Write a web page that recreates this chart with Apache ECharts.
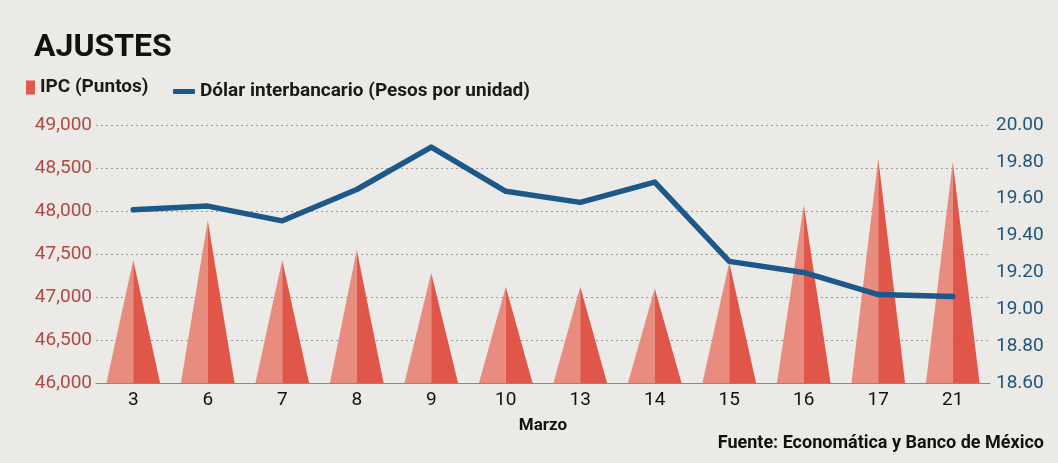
<!DOCTYPE html>
<html><head><meta charset="utf-8">
<script src="https://cdn.jsdelivr.net/npm/echarts@6/dist/echarts.min.js"></script>
<style>html,body{margin:0;padding:0;background:#ebeae6;}#c{width:1058px;height:463px;}</style>
</head><body><div id="c"></div>
<script>
const categories = ['3','6','7','8','9','10','13','14','15','16','17','21'];
const ipc = [47430, 47890, 47430, 47550, 47280, 47120, 47120, 47100, 47400, 48070, 48610, 48570];
const dolar = [19.54, 19.56, 19.48, 19.65, 19.88, 19.64, 19.58, 19.69, 19.26, 19.20, 19.08, 19.07];
const leftTicks = [46000, 49000, 500];
const rightTicks = [18.6, 20.0, 0.2];

const FONT = "'Roboto','Liberation Sans',sans-serif";
const chart = echarts.init(document.getElementById('c'));
chart.setOption({
  backgroundColor: '#ebeae6',
  animation: false,
  title: {
    text: 'AJUSTES', left: 29, top: 27,
    textStyle: {fontFamily: FONT, fontSize: 32, fontWeight: 'bold', color: '#111'}
  },
  legend: [
    {data: [{name: 'IPC (Puntos)', icon: 'rect'}], left: 21, top: 73, itemWidth: 9, itemHeight: 14, itemGap: 5,
     textStyle: {fontFamily: FONT, fontSize: 19, fontWeight: 'bold', color: '#1a1a1a'}},
    {data: [{name: 'Dólar interbancario (Pesos por unidad)', icon: 'roundRect'}], left: 168, top: 77, itemWidth: 22, itemHeight: 5, itemGap: 5,
     textStyle: {fontFamily: FONT, fontSize: 19, fontWeight: 'bold', color: '#1a1a1a'}}
  ],
  grid: {left: 96, right: 68, top: 125, bottom: 80},
  xAxis: {
    type: 'category', data: categories,
    name: 'Marzo', nameLocation: 'middle', nameGap: 34,
    nameTextStyle: {fontFamily: FONT, fontSize: 17, fontWeight: 'bold', color: '#111'},
    axisLine: {lineStyle: {color: '#8a8a8a', width: 1}},
    axisTick: {show: false},
    axisLabel: {fontFamily: FONT, fontSize: 19, color: '#111', margin: 8}
  },
  yAxis: [
    {type: 'value', min: leftTicks[0], max: leftTicks[1], interval: leftTicks[2],
     axisLine: {show: false}, axisTick: {show: false},
     splitLine: {lineStyle: {color: '#9a9a9a', type: [2, 3], width: 1}},
     axisLabel: {fontFamily: FONT, fontSize: 19, color: '#b04a44', margin: 4,
       formatter: v => v.toLocaleString('en-US')}},
    {type: 'value', min: rightTicks[0], max: rightTicks[1], interval: rightTicks[2],
     axisLine: {show: false}, axisTick: {show: false}, splitLine: {show: false},
     axisLabel: {fontFamily: FONT, fontSize: 19, color: '#1d5580', margin: 6,
       formatter: v => v.toFixed(2)}}
  ],
  series: [
    {name: 'IPC (Puntos)', type: 'custom', yAxisIndex: 0, data: ipc.map((v, i) => [i, v]),
     itemStyle: {color: '#e1594b'},
     encode: {x: 0, y: 1},
     renderItem: function (params, api) {
       const top = api.coord([api.value(0), api.value(1)]);
       const base = api.coord([api.value(0), leftTicks[0]]);
       const hw = api.size([1, 0])[0] * 0.36;
       return {type: 'group', children: [
         {type: 'polygon', shape: {points: [[base[0] - hw, base[1]], [top[0], top[1]], [top[0], base[1]]]},
          style: {fill: '#e78c7e'}},
         {type: 'polygon', shape: {points: [[top[0], base[1]], [top[0], top[1]], [base[0] + hw, base[1]]]},
          style: {fill: '#e0574a'}}
       ]};
     },
     z: 2},
    {name: 'Dólar interbancario (Pesos por unidad)', type: 'line', yAxisIndex: 1, data: dolar,
     symbol: 'none', lineStyle: {color: '#1c5889', width: 5.5, cap: 'round', join: 'round'},
     itemStyle: {color: '#1c5889'}, z: 3}
  ],
  graphic: [
    {type: 'text', right: 14, top: 434,
     style: {text: 'Fuente: Economática y Banco de México', fontFamily: FONT, fontSize: 18, fontWeight: 'bold', fill: '#111'}}
  ]
});
</script></body></html>
